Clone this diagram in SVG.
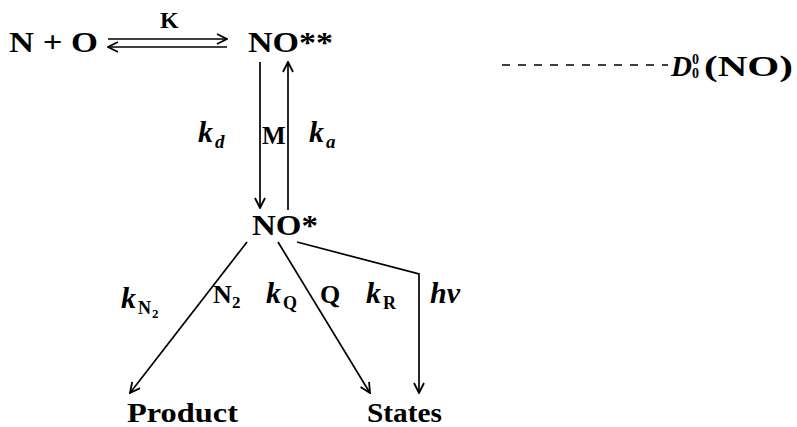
<svg xmlns="http://www.w3.org/2000/svg" width="797" height="427" viewBox="0 0 797 427">
<style>
.t{font-family:"Liberation Serif","DejaVu Serif",serif;font-weight:bold;fill:#000}
.i{font-style:italic}
.c{stroke:#000;stroke-width:1.7;fill:none}
</style>
<defs>
<marker id="ah" viewBox="0 0 12 12" refX="11" refY="6" markerWidth="12" markerHeight="12" markerUnits="userSpaceOnUse" orient="auto">
<path d="M1,1 L11,6 L1,11" fill="none" stroke="#000" stroke-width="1.8"/>
</marker>
</defs>
<rect width="797" height="427" fill="#fff"/>
<g id="NplusO"><text class="t" x="9" y="52" font-size="30" textLength="89" lengthAdjust="spacingAndGlyphs">N + O</text></g>
<g id="NOss"><text class="t" x="248" y="52" font-size="30" textLength="85" lengthAdjust="spacingAndGlyphs">NO**</text></g>
<g id="NOs"><text class="t" x="252" y="235" font-size="29" textLength="66" lengthAdjust="spacingAndGlyphs">NO*</text></g>
<g id="Product"><text class="t" x="127" y="422" font-size="27" textLength="111" lengthAdjust="spacingAndGlyphs">Product</text></g>
<g id="States"><text class="t" x="367" y="422" font-size="27" textLength="75" lengthAdjust="spacingAndGlyphs">States</text></g>
<g id="D00"><text class="t i" x="671" y="76" font-size="29">D</text><text class="t" x="692" y="64" font-size="14">0</text><text class="t" x="692" y="78" font-size="14">0</text><text class="t" x="704" y="76" font-size="29" textLength="89" lengthAdjust="spacingAndGlyphs">(NO)</text></g>
<g id="connectors">
<line class="c" x1="108" y1="39" x2="227" y2="39" marker-end="url(#ah)"/>
<line class="c" x1="227" y1="47" x2="108" y2="47" marker-end="url(#ah)"/>
<line class="c" x1="260" y1="62" x2="260" y2="208" marker-end="url(#ah)"/>
<line class="c" x1="288" y1="210" x2="288" y2="62" marker-end="url(#ah)"/>
<line class="c" x1="247" y1="242" x2="130" y2="393" marker-end="url(#ah)"/>
<line class="c" x1="278" y1="242" x2="370" y2="393" marker-end="url(#ah)"/>
<polyline class="c" points="297,242 419,274 419,393" marker-end="url(#ah)"/>
<line x1="502" y1="65" x2="668" y2="65" stroke="#000" stroke-width="1.6" stroke-dasharray="8,8"/>
</g>
<g id="labels">
<text class="t" x="160" y="28" font-size="24">K</text>
<text class="t i" x="198" y="142" font-size="30">k</text><text class="t i" x="215" y="148" font-size="19">d</text>
<text class="t" x="262" y="144" font-size="25">M</text>
<text class="t i" x="309" y="142" font-size="30">k</text><text class="t i" x="326" y="148" font-size="19">a</text>
<text class="t i" x="121" y="308" font-size="30">k</text><text class="t" x="138" y="314" font-size="18">N</text><text class="t" x="152" y="318" font-size="13">2</text>
<text class="t" x="213" y="303" font-size="26">N</text><text class="t" x="232" y="308" font-size="17">2</text>
<text class="t i" x="266" y="303" font-size="30">k</text><text class="t" x="283" y="309" font-size="18">Q</text>
<text class="t" x="320" y="303" font-size="26">Q</text>
<text class="t i" x="366" y="303" font-size="30">k</text><text class="t" x="383" y="309" font-size="18">R</text>
<text class="t i" x="430" y="303" font-size="30">hν</text>
</g>
</svg>
